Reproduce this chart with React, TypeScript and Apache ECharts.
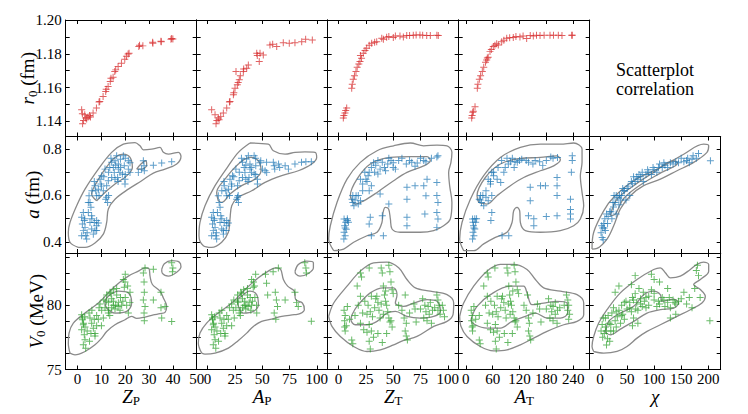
import React, { useEffect, useRef } from "react";
import * as echarts from "echarts";

// ---------- axis ranges & ticks ----------
const xRangeZP = [-5, 50];
const xRangeAP = [-10, 110];
const xRangeZT = [-10, 110];
const xRangeAT = [-16, 277];
const xRangeChi = [-19, 223];
const yRangeR0 = [1.1311, 1.2];
const yRangeA = [0.353, 0.853];
const yRangeV0 = [75, 84.06];

const xTicksZP = [0, 10, 20, 30, 40, 50];
const xTicksAP = [0, 25, 50, 75, 100];
const xTicksZT = [0, 25, 50, 75, 100];
const xTicksAT = [0, 60, 120, 180, 240];
const xTicksChi = [0, 50, 100, 150, 200];
const yTicksR0 = [1.14, 1.15, 1.16, 1.17, 1.18, 1.19, 1.2];
const yLabelsR0 = [1.14, 1.16, 1.18, 1.2];
const yTicksA = [0.4, 0.5, 0.6, 0.7, 0.8];
const yLabelsA = [0.4, 0.6, 0.8];
const yTicksV0 = [75, 76.25, 77.5, 78.75, 80, 81.25, 82.5, 83.75];
const yLabelsV0 = [75, 80];

const xTitles = ["{i|Z}{s|P}", "{i|A}{s|P}", "{i|Z}{s|T}", "{i|A}{s|T}", "{i|χ}"];
const yTitles = ["{i|r}{s|0}{n|\u00a0(fm)}", "{i|a}{n|\u00a0(fm)}", "{i|V}{s|0}{n|\u00a0(MeV)}"];

// ---------- row 1: r0 ----------
const rZP = [[1.7,1.1469],[2.1,1.1386],[3.0,1.144],[3.4,1.142],[4.4,1.1426],[5.4,1.1426],[6.5,1.145],[7.9,1.1479],[9.3,1.1518],[10.7,1.1548],[11.8,1.1577],[12.8,1.1607],[13.7,1.1636],[14.9,1.1662],[15.6,1.1695],[17.0,1.1725],[18.4,1.1744],[19.8,1.1768],[21.2,1.1799],[21.6,1.1803],[25.7,1.1843],[27.4,1.1847],[31.6,1.1862],[35.1,1.1872],[39.2,1.1886],[40,1.1888],[2.5,1.1405],[3.8,1.1415],[2.0,1.1445],[5.0,1.1435],[16.0,1.1705],[20.5,1.1785],[26,1.185],[31.5,1.1868],[35,1.1875],[39.5,1.189],[12,1.159],[9,1.1515],[14,1.1655]];
const rAP = [[3.7,1.1469],[6.8,1.144],[7.7,1.1386],[9.8,1.142],[12,1.143],[14.4,1.145],[17.5,1.1479],[20.5,1.1518],[23.6,1.1558],[25.1,1.1597],[27.2,1.1617],[29.0,1.1646],[26,1.1695],[32.7,1.1695],[35.8,1.1715],[37.3,1.1734],[45,1.1803],[48,1.1803],[47.3,1.1754],[51,1.1793],[57.1,1.1852],[59.6,1.1856],[63.3,1.1843],[69.3,1.1866],[74.8,1.1862],[80,1.1866],[86.2,1.1872],[89.8,1.1886],[95.9,1.1882],[8.5,1.1405],[10.5,1.141],[30,1.167],[33,1.171],[24,1.157],[28,1.163],[45.5,1.179],[20,1.1515]];
const rZT = [[4.3,1.142],[5.8,1.145],[7.4,1.1479],[12,1.1597],[13.4,1.165],[15.9,1.1695],[19.6,1.1754],[22.6,1.1803],[25.7,1.1833],[30.3,1.1862],[34.9,1.1872],[39.5,1.1892],[44,1.1898],[50.1,1.1896],[56.2,1.1906],[62.4,1.1908],[68.4,1.191],[74.5,1.1912],[80.7,1.1908],[91.3,1.1908],[21,1.1774],[24.2,1.182],[41,1.1886],[59.3,1.19],[4.8,1.1435],[6.5,1.1465],[12.5,1.162],[14.5,1.167],[17,1.172],[18.5,1.174],[20,1.179],[28,1.185],[33,1.1868],[46,1.1902],[52,1.1905],[65,1.1909],[71,1.1911],[77,1.191],[84,1.1909],[90,1.191]];
const rAT = [[13.1,1.142],[16.7,1.146],[20.5,1.1487],[25.6,1.1597],[30.1,1.165],[36.8,1.1695],[46.6,1.1764],[54,1.1813],[61.4,1.1843],[72.6,1.1852],[80.2,1.1872],[91.4,1.1892],[106.1,1.1896],[121,1.19],[136,1.189],[150.9,1.1906],[165.9,1.1908],[188.2,1.191],[206.8,1.191],[236.8,1.191],[50,1.178],[69,1.186],[14,1.1435],[15.5,1.1455],[27,1.162],[33,1.167],[40,1.172],[44,1.175],[48,1.1775],[57,1.1825],[65,1.185],[85,1.188],[98,1.1895],[112,1.1902],[128,1.1905],[144,1.1908],[158,1.191],[175,1.191],[196,1.191],[215,1.1908],[238,1.191]];

// ---------- row 2: a ----------
const aZP = [[1.7,0.506],[2.0,0.477],[2.4,0.449],[1.7,0.427],[2.8,0.492],[3.1,0.463],[3.4,0.427],[3.8,0.413],[2.4,0.527],[4.8,0.599],[5.2,0.570],[5.6,0.549],[4.5,0.527],[5.9,0.513],[5.2,0.484],[5.9,0.456],[6.6,0.434],[7.3,0.642],[7.6,0.620],[8.0,0.599],[7.0,0.484],[8.0,0.492],[8.0,0.470],[7.3,0.449],[8.7,0.482],[9.4,0.670],[9.8,0.649],[8.7,0.627],[10.1,0.685],[11.5,0.713],[12.2,0.592],[12.6,0.570],[11.8,0.584],[12.9,0.663],[12.2,0.642],[14.3,0.742],[15.0,0.720],[15.4,0.699],[14.3,0.677],[15.7,0.670],[15.7,0.749],[16.4,0.770],[17.1,0.735],[17.1,0.713],[16.8,0.677],[17.8,0.699],[19.2,0.770],[19.6,0.727],[19.9,0.670],[19.9,0.649],[18.8,0.692],[21.3,0.749],[21.3,0.713],[22.0,0.699],[27.6,0.749],[27.9,0.727],[28.0,0.706],[26.9,0.713],[31.8,0.730],[35.3,0.739],[39.5,0.745],[25.5,0.699],[10.8,0.620],[4.5,0.570],[13.5,0.72],[18,0.755],[6,0.62],[7,0.66],[9,0.6],[10,0.64],[11,0.68],[13,0.7],[14,0.76],[16,0.73],[18,0.72],[20,0.76],[20,0.69],[17,0.66],[3,0.5],[4,0.44],[6,0.5],[8,0.45],[13,0.6],[22,0.74]];
const aAP = [[3.7,0.506],[4.5,0.477],[5.2,0.449],[3.7,0.427],[6.0,0.492],[6.8,0.463],[7.5,0.427],[8.3,0.413],[5.2,0.527],[9.8,0.599],[10.6,0.570],[11.4,0.549],[9.0,0.527],[12.1,0.513],[11.4,0.484],[12.9,0.456],[14.4,0.434],[15.2,0.642],[16.7,0.620],[17.5,0.599],[15.2,0.484],[17.5,0.492],[17.5,0.470],[14.4,0.449],[19.0,0.482],[20.5,0.670],[22.0,0.649],[19.0,0.627],[22.8,0.685],[25.9,0.713],[27.4,0.592],[28.2,0.570],[26.6,0.584],[28.9,0.663],[27.4,0.642],[31.9,0.742],[33.5,0.720],[34.2,0.699],[31.9,0.677],[35.0,0.670],[35.7,0.756],[37.3,0.770],[38.8,0.735],[38.8,0.713],[37.9,0.677],[40.3,0.699],[42.6,0.770],[44.1,0.727],[45.6,0.670],[45.6,0.649],[42.6,0.692],[50.2,0.713],[52.6,0.706],[54.1,0.699],[48.7,0.749],[54,0.742],[60.2,0.742],[61,0.727],[61.5,0.713],[65,0.735],[66,0.720],[71,0.727],[74,0.713],[80,0.735],[86,0.742],[90,0.745],[95,0.745],[13,0.62],[15,0.66],[20,0.6],[22,0.64],[24,0.68],[29,0.7],[31,0.76],[35,0.73],[40,0.72],[44,0.76],[44,0.69],[37,0.66],[6,0.5],[8,0.44],[13,0.5],[17,0.45],[28,0.6],[48,0.74]];
const aZT = [[5,0.499],[5.5,0.47],[5,0.442],[6,0.427],[4.8,0.413],[6.5,0.485],[8,0.492],[9,0.485],[7,0.455],[12.3,0.584],[13,0.57],[14,0.556],[16,0.599],[18,0.563],[20,0.577],[13,0.6],[20,0.67],[22,0.649],[25,0.67],[27,0.685],[30,0.642],[28,0.62],[24,0.7],[30,0.72],[33,0.70],[36,0.692],[38,0.713],[34,0.73],[40,0.742],[45,0.735],[48,0.75],[50,0.72],[52,0.713],[43,0.706],[46,0.76],[62,0.735],[67,0.742],[72,0.739],[78,0.75],[80,0.745],[85,0.76],[90,0.765],[70,0.725],[29,0.506],[40,0.513],[28,0.477],[41,0.427],[30,0.427],[62.6,0.584],[62.6,0.635],[62.6,0.506],[62.6,0.47],[70,0.642],[78,0.642],[80,0.599],[79,0.52],[90,0.656],[90,0.6],[91,0.57],[90,0.527],[91,0.499],[90,0.463],[81,0.67],[91,0.77],[38,0.606],[46,0.563],[15,0.58],[18,0.6],[22,0.62],[26,0.66],[28,0.7],[32,0.74],[36,0.75],[42,0.72],[50,0.74],[55,0.75],[58,0.76],[65,0.75],[75,0.76],[6,0.46],[8,0.5]];
const aAT = [[15,0.499],[17,0.47],[16,0.442],[18,0.427],[15,0.413],[20,0.456],[22,0.485],[24,0.5],[16,0.485],[30,0.584],[35,0.57],[40,0.556],[45,0.592],[50,0.577],[58,0.6],[33,0.6],[50,0.67],[55,0.649],[62,0.685],[70,0.67],[78,0.656],[85,0.7],[58,0.7],[88,0.72],[95,0.735],[100,0.745],[108,0.72],[115,0.742],[120,0.75],[104,0.76],[140,0.742],[150,0.735],[165,0.745],[180,0.75],[195,0.76],[205,0.763],[172,0.728],[238,0.77],[238,0.75],[58,0.527],[56,0.492],[81,0.427],[96,0.427],[144,0.635],[144,0.577],[152,0.47],[152,0.5],[167,0.642],[178,0.642],[204,0.642],[204,0.6],[204,0.513],[234,0.584],[234,0.54],[234,0.52],[234,0.499],[204,0.677],[236,0.7],[140,0.513],[180,0.51],[32,0.58],[38,0.6],[45,0.62],[55,0.66],[62,0.7],[72,0.72],[80,0.75],[92,0.76],[110,0.745],[125,0.755],[135,0.75],[155,0.75],[190,0.765],[18,0.46],[20,0.5]];
const aChi = [[2,0.44],[4,0.42],[5,0.46],[7,0.48],[9,0.5],[10,0.45],[12,0.52],[6,0.41],[3,0.47],[20,0.53],[22,0.5],[25,0.55],[28,0.57],[30,0.52],[33,0.59],[35,0.56],[15,0.51],[40,0.6],[45,0.62],[50,0.63],[55,0.6],[60,0.65],[65,0.66],[48,0.58],[42,0.63],[70,0.67],[75,0.68],[80,0.66],[85,0.69],[90,0.7],[95,0.69],[100,0.71],[105,0.70],[78,0.7],[115,0.72],[120,0.73],[125,0.72],[130,0.74],[140,0.745],[145,0.74],[110,0.735],[155,0.745],[160,0.75],[165,0.74],[170,0.755],[178,0.76],[182,0.78],[204,0.749],[150,0.76],[62,0.68],[38,0.58],[26,0.6],[8,0.46],[14,0.48],[18,0.53],[24,0.57],[30,0.6],[36,0.6],[44,0.62],[52,0.64],[58,0.66],[68,0.68],[72,0.69],[88,0.71],[98,0.72],[108,0.72],[118,0.74],[135,0.735],[162,0.76],[172,0.77]];

// ---------- row 3: V0 ----------
const vZP = [[1.7,79.26],[2.0,78.87],[2.4,78.48],[1.7,78.09],[2.8,77.7],[3.1,77.31],[2.4,76.92],[3.4,76.66],[2.0,79.0],[3.1,78.3],[4.8,79.39],[5.2,79.0],[5.9,78.6],[6.6,78.2],[7.3,77.8],[8.0,79.2],[8.7,78.9],[8.0,78.4],[7.3,77.6],[6.0,79.6],[5.6,77.8],[9.4,80.1],[10.1,79.6],[11.5,79.8],[12.2,80.3],[12.9,79.4],[10.8,79.0],[12.2,80.8],[13.6,81.0],[14.3,80.5],[15.0,80.0],[15.7,79.7],[16.4,80.8],[17.1,80.2],[17.8,79.6],[14.3,79.8],[16.4,81.3],[15.0,80.3],[18.5,80.0],[13.0,79.6],[19.2,82.0],[19.6,81.4],[20.0,80.6],[20.6,80.0],[21.3,79.4],[22.0,81.0],[22.0,80.2],[19.9,81.8],[20,82.4],[27.6,82.5],[27.9,81.8],[28.0,81.0],[27.6,80.4],[28.3,79.9],[27.9,79.4],[28.0,78.8],[28.3,82.9],[31.8,80.4],[35,81.0],[35,79.8],[36.7,79.9],[35.3,79.0],[39.5,78.74],[39.5,83.3],[40,82.9],[39.8,82.6],[31.8,82.8],[2.5,78.6],[3,79.1],[4,78.0],[5,77.2],[9,79.8],[11,80.4],[13,80.2],[14,80.9],[15,81.2],[16,80.0],[17,79.9],[18,80.6],[19,80.3],[21,81.5],[13.5,79.2],[10,78.4],[7,78.9]];
const vAP = [[3.7,79.26],[4.5,78.87],[5.2,78.48],[3.7,78.09],[6.0,77.7],[6.8,77.31],[5.2,76.92],[7.5,76.66],[4.5,79.0],[6.8,78.3],[10.6,79.39],[11.4,79.0],[12.9,78.6],[14.4,78.2],[15.9,77.8],[17.5,79.2],[19.0,78.9],[17.5,78.4],[15.9,77.6],[13.0,79.6],[12,77.8],[22,80.1],[23.6,79.6],[25.9,79.8],[27.4,80.3],[28.9,79.4],[24.4,79.0],[27.4,80.8],[30.4,81.0],[31.9,80.5],[33.4,80.0],[35.0,79.7],[36.5,80.8],[38.0,80.2],[39.6,79.6],[32.0,79.8],[36.5,81.3],[34.0,80.3],[40.3,80.0],[30,79.6],[40.3,82.0],[41.8,81.4],[43.3,80.6],[44.8,80.0],[42,81.8],[44,82.4],[45,79.4],[53,82.4],[54,81.7],[55,80.8],[60,82.6],[62,81.0],[63,80.4],[64,79.9],[61,79.4],[62.5,78.9],[64.8,82.9],[71,80.4],[80,81.0],[81.5,80.2],[83,79.9],[95,78.75],[89,83.3],[90,82.9],[90.5,82.5],[5.5,78.6],[6.5,79.1],[8.5,78.0],[10,77.2],[20,79.8],[24,80.4],[28,80.2],[31,80.9],[33,81.2],[35,80.0],[37,79.9],[39,80.6],[41,80.3],[43,81.5],[30,79.2],[22,78.4],[15,78.9]];
const vZT = [[5,79.6],[6,79.2],[5.5,78.8],[7,78.4],[6,78.0],[5.5,78.3],[12,77.3],[13,77.0],[17,81.5],[20,80.7],[18,80.0],[22,79.4],[20,78.6],[23,78.1],[20,82.5],[21,82.2],[28,82.9],[30,80.7],[27,80.0],[29,79.5],[31,79.1],[28,78.5],[30,78.0],[32,77.5],[26,77.9],[28,77.2],[29,76.6],[35,80.7],[36,80.2],[37,79.6],[38,79.0],[36,77.8],[39,82.9],[40,82.5],[41,81.5],[42,80.8],[43,80.3],[44,80.0],[45,79.5],[46,79.0],[47,78.7],[44,77.8],[40,77.1],[46,83.1],[47,82.6],[48,81.8],[49,81.2],[50,80.9],[48,78.8],[49,78.3],[61,80.8],[60,79.0],[62,78.6],[61,78.0],[62,77.6],[63,77.3],[69,80.1],[70,79.7],[71,78.7],[77,80.5],[79,80.0],[80,79.5],[78,79.0],[81,78.8],[84,80.2],[86,79.6],[83,79.3],[85,78.6],[90,80.8],[91,80.4],[92,80.0],[91,79.6],[93,79.3],[96,79.6],[97,79.1],[8,79.9],[10,78.9],[15,79.2],[24,80.3],[26,79.3],[33,79.8],[34,80.5],[39,80.1],[41,79.3],[43,81.1],[55,80.0],[58,79.6],[65,79.4],[75,79.7],[82,79.9],[88,79.8],[95,80.0]];
const vAT = [[12,79.6],[14,79.2],[13,78.8],[16,78.4],[15,78.0],[14,78.3],[30,77.3],[32,77.0],[40,81.5],[48,80.7],[44,80.0],[52,79.4],[48,78.6],[55,78.1],[48,82.5],[50,82.2],[65,82.9],[70,80.7],[64,80.0],[68,79.5],[72,79.1],[66,78.5],[70,78.0],[75,77.5],[62,77.9],[66,77.2],[68,76.6],[82,80.7],[85,80.2],[88,79.6],[90,79.0],[86,77.8],[92,82.9],[94,82.5],[96,81.5],[98,80.8],[100,80.3],[102,80.0],[105,79.5],[108,79.0],[110,78.7],[104,77.8],[94,77.1],[108,83.1],[110,82.6],[112,81.8],[115,81.2],[118,80.9],[112,78.8],[115,78.3],[138,80.8],[140,79.0],[142,78.6],[140,78.0],[143,77.6],[145,77.3],[160,80.1],[165,79.7],[168,78.7],[185,80.5],[190,80.0],[192,79.5],[188,79.0],[195,78.8],[200,80.2],[205,79.6],[200,79.3],[204,78.6],[225,80.8],[228,80.4],[230,80.0],[228,79.6],[232,79.3],[230,78.9],[18,79.9],[22,78.9],[30,79.2],[56,80.3],[60,79.3],[78,79.8],[80,80.5],[95,80.1],[99,79.3],[105,81.1],[130,80.0],[135,79.6],[150,79.4],[180,79.7],[195,79.9],[210,79.8],[220,80.0]];
const vChi = [[2,78.0],[4,78.5],[5,77.5],[6,79.0],[8,77.8],[10,78.3],[12,76.9],[14,77.4],[15,79.2],[17,78.6],[18,77.2],[20,78.0],[22,79.4],[25,79.8],[28,78.8],[30,78.3],[32,79.1],[35,79.6],[38,78.6],[40,80.0],[42,79.3],[45,78.9],[48,80.3],[50,79.7],[28,81.0],[35,81.5],[55,80.2],[58,79.5],[60,80.6],[62,79.0],[65,80.9],[68,80.2],[70,79.6],[72,81.3],[75,80.5],[78,79.9],[80,81.0],[82,80.3],[85,79.8],[60,78.4],[70,78.6],[65,82.3],[58,81.6],[90,80.7],[95,81.2],[100,80.4],[105,79.9],[110,80.1],[115,80.6],[120,79.9],[125,80.2],[130,79.8],[135,80.4],[140,80.1],[145,80.3],[100,82.0],[110,81.8],[95,82.4],[125,81.3],[140,79.3],[130,79.0],[150,80.5],[155,81.0],[160,80.1],[165,80.6],[170,79.8],[175,81.3],[178,82.7],[180,83.1],[182,82.3],[185,80.6],[203,78.8],[10,79.0],[12,78.0],[20,78.5],[25,78.0],[30,79.5],[40,79.2],[45,80.2],[55,79.8],[62,80.4],[66,79.7],[75,80.1],[85,80.6],[90,80.0],[100,80.9],[108,80.3],[118,80.4],[128,80.6],[138,80.2]];

// ---------- density contours ----------
const cAZPOuter = [[0.3,0.377],[-3.2,0.399],[-3.9,0.442],[-3.2,0.484],[-0.4,0.556],[3.1,0.627],[8.7,0.713],[14.3,0.785],[19.2,0.82],[24.1,0.827],[26.2,0.813],[27.6,0.796],[31.1,0.799],[34.6,0.806],[36.0,0.785],[38.1,0.777],[42.3,0.785],[43.4,0.767],[41.6,0.735],[36.7,0.713],[31.8,0.696],[26.9,0.663],[21.3,0.627],[15.7,0.584],[12.9,0.542],[12.2,0.484],[10.8,0.434],[7.3,0.396],[3.1,0.377]];
const cAZPInner = [[8.0,0.577],[5.9,0.606],[8.0,0.656],[11.5,0.713],[15.7,0.763],[19.2,0.777],[22.0,0.763],[23.0,0.72],[20.6,0.684],[15.7,0.649],[11.5,0.613]];
const cAZPSmall = [[24.8,0.713],[26.6,0.735],[28.6,0.749],[29.0,0.73],[26.9,0.713]];
const cAAPOuter = [[38.8,0.825],[55.6,0.82],[60.2,0.792],[70.9,0.777],[80.1,0.785],[89.2,0.787],[98.4,0.785],[99.9,0.763],[95.3,0.735],[83.1,0.706],[67.9,0.685],[52.6,0.656],[40.4,0.62],[28.2,0.592],[22.1,0.556],[20.5,0.499],[19.0,0.442],[12.9,0.399],[3.7,0.377],[-3.9,0.384],[-7.9,0.427],[-7.0,0.484],[-2.4,0.556],[6.8,0.642],[19.0,0.727],[28.2,0.785]];
const cAAPInner = [[9.8,0.577],[8.3,0.613],[15.9,0.67],[28.2,0.735],[38.8,0.763],[46.5,0.749],[48.9,0.706],[43.4,0.67],[31.2,0.642],[20.5,0.606],[12.9,0.57]];
const cAZTOuter = [[-4.5,0.363],[-9.1,0.413],[-7.6,0.47],[-1.5,0.57],[7.7,0.67],[19.9,0.742],[35.2,0.792],[50.4,0.813],[65.7,0.825],[77.9,0.813],[90.1,0.816],[99.3,0.813],[103.8,0.785],[102.9,0.742],[100.8,0.699],[101.7,0.642],[103.8,0.57],[102.3,0.499],[96.2,0.47],[87.1,0.449],[74.8,0.442],[56.5,0.442],[48.9,0.456],[47.4,0.499],[45.8,0.542],[42.8,0.549],[40.7,0.527],[39.7,0.484],[35.2,0.442],[26.0,0.427],[13.8,0.399],[4.6,0.37]];
const cAZTInner = [[12.3,0.577],[10.7,0.599],[16.8,0.67],[29.0,0.735],[47.4,0.763],[65.7,0.767],[81.0,0.767],[84.0,0.749],[77.9,0.727],[62.6,0.699],[50.4,0.663],[35.2,0.613],[23.0,0.577],[15.3,0.563]];
const cAATOuter = [[-4.9,0.363],[-13.8,0.413],[-8.6,0.484],[10.1,0.584],[39.9,0.685],[77.2,0.763],[121.9,0.806],[166.6,0.82],[211.4,0.82],[241.2,0.825],[259.9,0.799],[259.9,0.742],[256.1,0.685],[259.9,0.613],[263.6,0.556],[256.1,0.499],[241.2,0.47],[211.4,0.449],[166.6,0.442],[133.1,0.449],[121.9,0.484],[120.4,0.534],[114.5,0.549],[107.0,0.534],[103.3,0.484],[92.1,0.442],[66.0,0.42],[39.9,0.392],[17.5,0.363]];
const cAATInner = [[28.7,0.57],[25.0,0.599],[43.6,0.677],[77.2,0.735],[121.9,0.759],[166.6,0.763],[203.9,0.77],[211.4,0.753],[196.5,0.727],[166.6,0.706],[129.4,0.677],[99.5,0.642],[69.7,0.599],[47.3,0.563]];
const cAChiOuter = [[-14.7,0.37],[-11.6,0.442],[6.8,0.534],[25.3,0.592],[62.2,0.663],[111.5,0.72],[154.6,0.777],[191.5,0.82],[200.8,0.813],[197.7,0.785],[173.1,0.742],[142.3,0.706],[111.5,0.67],[80.7,0.642],[56.1,0.599],[37.6,0.542],[25.3,0.47],[13.0,0.413],[-5.4,0.373]];
const cAChiInner = [[19.2,0.513],[31.5,0.584],[62.2,0.642],[99.2,0.699],[136.1,0.749],[143.5,0.739],[111.5,0.696],[74.6,0.645],[43.8,0.587],[28.4,0.52]];

const cVZPOuter = [[-3.2,76.27],[-3.9,77.05],[-3.6,77.83],[-1.8,78.61],[3.1,79.39],[8.7,80.17],[15.7,81.48],[21.3,82.26],[25.5,82.65],[28.3,82.91],[30.0,82.83],[30.4,82.26],[31.4,81.61],[34.6,81.09],[36.0,80.56],[37.4,79.91],[36.7,79.44],[34.6,79.34],[31.8,79.24],[28.3,79.08],[24.8,78.98],[22.7,79.13],[19.9,78.87],[15.7,78.48],[12.2,77.96],[10.1,77.44],[7.3,76.92],[3.1,76.4],[-1.1,76.14]];
const cVZPInner = [[12.9,80.69],[17.1,81.09],[21.3,80.96],[22.7,80.17],[20.6,79.52],[15.7,79.39],[12.2,79.78],[11.5,80.3]];
const cVZPIsland = [[35.3,82.78],[36.4,83.22],[39.5,83.46],[42.7,83.35],[43.4,82.99],[41.6,82.57],[38.1,82.26],[35.6,82.47]];
const cVAPOuter = [[-5.4,76.27],[-8.5,77.05],[-7.0,77.83],[-0.9,78.61],[9.8,79.39],[22.1,80.17],[34.3,81.22],[46.5,82.13],[55.6,82.65],[62.4,82.91],[66.9,82.78],[69.4,82.0],[73.3,81.48],[79.4,81.09],[80.7,80.43],[86.8,80.17],[88.6,79.65],[84.6,79.34],[79.4,79.26],[67.9,79.13],[58.7,78.92],[49.5,78.74],[41.9,78.35],[35.8,77.83],[28.2,77.26],[19.0,76.66],[6.8,76.27],[-2.4,76.19]];
const cVAPInner = [[31.2,80.69],[38.8,81.09],[44.9,80.83],[46.5,80.04],[41.9,79.52],[32.7,79.39],[28.2,79.91],[27.5,80.43]];
const cVAPIsland = [[80.1,82.65],[83.1,83.17],[90.7,83.43],[96.9,83.3],[96.9,82.91],[92.3,82.47],[84.6,82.26],[80.7,82.44]];
const cVZTOuter = [[-9.1,79.13],[-4.5,80.17],[7.7,81.48],[19.9,82.65],[32.1,83.3],[44.3,83.35],[55.0,82.91],[62.6,82.0],[70.3,81.35],[84.0,81.09],[99.3,80.82],[105.4,80.17],[104.8,79.26],[99.3,78.74],[87.1,78.35],[71.8,77.57],[59.6,77.26],[50.4,76.92],[38.2,76.53],[26.0,76.4],[13.8,76.79],[1.6,77.57],[-6.1,78.35]];
const cVZTInner = [[12.3,79.26],[16.8,79.91],[29.0,80.96],[41.3,81.35],[50.4,81.35],[53.5,80.82],[52.0,80.17],[59.6,79.91],[68.7,80.17],[81.0,80.43],[90.1,80.3],[93.2,79.52],[87.1,79.13],[74.8,79.0],[62.6,79.13],[52.0,79.52],[44.3,79.39],[35.2,78.74],[26.0,78.48],[15.3,78.48],[11.3,78.87]];
const cVATOuter = [[-13.8,79.13],[-4.9,80.17],[17.5,81.48],[47.3,82.65],[77.2,83.17],[107.0,83.17],[136.8,82.78],[155.5,82.0],[174.1,81.35],[211.4,81.09],[248.7,80.82],[263.6,80.17],[263.6,79.26],[248.7,78.74],[218.9,78.48],[181.6,77.96],[151.7,77.44],[121.9,76.92],[92.1,76.53],[62.3,76.45],[32.4,76.79],[2.6,77.57],[-10.8,78.35]];
const cVATInner = [[13.8,79.13],[25.0,79.91],[54.8,80.82],[99.5,81.48],[129.4,81.48],[136.8,80.96],[148.0,80.04],[174.1,80.17],[203.9,80.3],[226.3,80.17],[227.8,79.39],[211.4,79.0],[181.6,79.0],[155.5,79.39],[133.1,79.13],[103.3,78.74],[77.2,78.22],[47.3,78.22],[21.2,78.48],[11.6,78.87]];
const cVChiOuter = [[-11.6,76.4],[-14.7,76.79],[-11.6,77.57],[-2.4,78.61],[13.0,79.65],[37.6,80.96],[68.4,82.0],[99.2,82.78],[111.5,82.91],[120.7,82.52],[129.9,82.13],[148.4,82.26],[166.9,82.78],[179.2,83.17],[191.5,83.35],[200.8,83.17],[200.8,82.65],[185.4,82.0],[173.1,81.61],[185.4,81.22],[194.6,80.69],[188.4,80.17],[166.9,79.65],[142.3,79.13],[111.5,78.48],[86.9,77.96],[68.4,77.44],[49.9,76.79],[31.5,76.4],[6.8,76.27]];
const cVChiInner = [[9.9,77.88],[16.1,78.74],[37.6,79.39],[62.2,79.91],[80.7,80.82],[99.2,81.09],[111.5,80.82],[114.6,80.3],[136.1,80.48],[145.4,80.17],[136.1,79.78],[111.5,79.65],[86.9,79.39],[62.2,78.74],[37.6,78.14],[19.2,77.7]];

// ---------- layout / style ----------
const SERIF = "Liberation Serif, DejaVu Serif, serif";
const PLUS = "path://M4.3,0H5.7V4.3H10V5.7H5.7V10H4.3V5.7H0V4.3H4.3Z";
const colLeft = [65.7, 196.7, 327.7, 458.7, 589.7];
const colW = 131;
const rowTop = [20, 136.5, 253];
const rowH = 116.5;
const rowColors = ["#d62728", "#1f77b4", "#2ca02c"];

const xDefs = [
  { range: xRangeZP, ticks: xTicksZP },
  { range: xRangeAP, ticks: xTicksAP },
  { range: xRangeZT, ticks: xTicksZT },
  { range: xRangeAT, ticks: xTicksAT },
  { range: xRangeChi, ticks: xTicksChi },
];
const yDefs = [
  { range: yRangeR0, ticks: yTicksR0, labels: yLabelsR0, fmt: (v: number) => v.toFixed(2) },
  { range: yRangeA, ticks: yTicksA, labels: yLabelsA, fmt: (v: number) => v.toFixed(1) },
  { range: yRangeV0, ticks: yTicksV0, labels: yLabelsV0, fmt: (v: number) => String(Math.round(v)) },
];

const panels = [
  { row: 0, col: 0, pts: rZP, contours: [] as number[][][] },
  { row: 0, col: 1, pts: rAP, contours: [] },
  { row: 0, col: 2, pts: rZT, contours: [] },
  { row: 0, col: 3, pts: rAT, contours: [] },
  { row: 1, col: 0, pts: aZP, contours: [cAZPOuter, cAZPInner, cAZPSmall] },
  { row: 1, col: 1, pts: aAP, contours: [cAAPOuter, cAAPInner] },
  { row: 1, col: 2, pts: aZT, contours: [cAZTOuter, cAZTInner] },
  { row: 1, col: 3, pts: aAT, contours: [cAATOuter, cAATInner] },
  { row: 1, col: 4, pts: aChi, contours: [cAChiOuter, cAChiInner] },
  { row: 2, col: 0, pts: vZP, contours: [cVZPOuter, cVZPInner, cVZPIsland] },
  { row: 2, col: 1, pts: vAP, contours: [cVAPOuter, cVAPInner, cVAPIsland] },
  { row: 2, col: 2, pts: vZT, contours: [cVZTOuter, cVZTInner] },
  { row: 2, col: 3, pts: vAT, contours: [cVATOuter, cVATInner] },
  { row: 2, col: 4, pts: vChi, contours: [cVChiOuter, cVChiInner] },
];

const closeLoop = (c: number[][]) => [...c, c[0]];

function buildOption() {
  const grid: any[] = [];
  const xAxis: any[] = [];
  const yAxis: any[] = [];
  const series: any[] = [];
  const lineStyle = { color: "#000", width: 1 };
  panels.forEach((p, i) => {
    grid.push({ left: colLeft[p.col], top: rowTop[p.row], width: colW, height: rowH });
    const xd = xDefs[p.col];
    const yd = yDefs[p.row];
    ["bottom", "top"].forEach((pos) => {
      const show = pos === "bottom" && p.row === 2;
      xAxis.push({
        type: "value", gridIndex: i, position: pos, min: xd.range[0], max: xd.range[1],
        axisLine: { show: true, onZero: false, lineStyle },
        axisTick: { show: true, inside: true, length: 4, customValues: xd.ticks, lineStyle },
        axisLabel: {
          show: show, customValues: xd.ticks, margin: 2, color: "#000", fontSize: 15,
          fontFamily: SERIF, showMinLabel: true, showMaxLabel: true,
          formatter: (v: number) => String(Math.round(v)),
        },
        splitLine: { show: false },
      });
    });
    ["left", "right"].forEach((pos) => {
      const show = pos === "left" && p.col === 0;
      yAxis.push({
        type: "value", gridIndex: i, position: pos, min: yd.range[0], max: yd.range[1],
        axisLine: { show: true, onZero: false, lineStyle },
        axisTick: { show: true, inside: true, length: 4, customValues: yd.ticks, lineStyle },
        axisLabel: {
          show: show, customValues: yd.labels, margin: 4, color: "#000", fontSize: 15,
          fontFamily: SERIF, showMinLabel: true, showMaxLabel: true, formatter: yd.fmt,
        },
        splitLine: { show: false },
      });
    });
    p.contours.forEach((c) => {
      series.push({
        type: "line", xAxisIndex: 2 * i, yAxisIndex: 2 * i, data: closeLoop(c),
        smooth: 0.35, symbol: "none", showSymbol: false, silent: true, z: 1,
        lineStyle: { color: "#8a8a8a", width: 1.3 },
      });
    });
    series.push({
      type: "scatter", xAxisIndex: 2 * i, yAxisIndex: 2 * i, data: p.pts,
      symbol: PLUS, symbolSize: 7, silent: true, z: 2,
      itemStyle: { color: rowColors[p.row], opacity: 0.72 },
    });
  });

  const rich = {
    i: { fontFamily: SERIF, fontSize: 19, fontStyle: "italic", fill: "#000", lineHeight: 22 },
    n: { fontFamily: SERIF, fontSize: 19, fill: "#000", lineHeight: 22 },
    s: { fontFamily: SERIF, fontSize: 13, fill: "#000", lineHeight: 12, verticalAlign: "bottom" },
  };
  const yTitleX = [27.5, 32, 36];
  const graphic: any[] = [];
  yTitles.forEach((t, r) => {
    graphic.push({
      type: "text", x: yTitleX[r], y: rowTop[r] + rowH / 2, rotation: Math.PI / 2,
      style: { text: t, rich, fontFamily: SERIF, fontSize: 19, align: "center", verticalAlign: "middle", fill: "#000" },
    });
  });
  xTitles.forEach((t, c) => {
    graphic.push({
      type: "text", x: colLeft[c] + colW / 2, y: 396,
      style: { text: t, rich, fontFamily: SERIF, fontSize: 19, align: "center", verticalAlign: "middle", fill: "#000" },
    });
  });
  graphic.push({
    type: "text", x: 655, y: 79,
    style: {
      text: "Scatterplot\ncorrelation", fontFamily: SERIF, fontSize: 18, lineHeight: 19,
      align: "center", verticalAlign: "middle", fill: "#000",
    },
  });

  return { animation: false, textStyle: { fontFamily: SERIF }, grid, xAxis, yAxis, series, graphic };
}

export default function App() {
  const ref = useRef<HTMLDivElement>(null);
  useEffect(() => {
    if (!ref.current) return;
    const chart = echarts.init(ref.current, null, { renderer: "svg" });
    chart.setOption(buildOption() as any);
    return () => chart.dispose();
  }, []);
  return (
    <div
      ref={ref}
      style={{ position: "absolute", left: 0, top: 0, width: 748, height: 414, background: "#fff", fontFamily: "Liberation Serif, serif" }}
    />
  );
}
